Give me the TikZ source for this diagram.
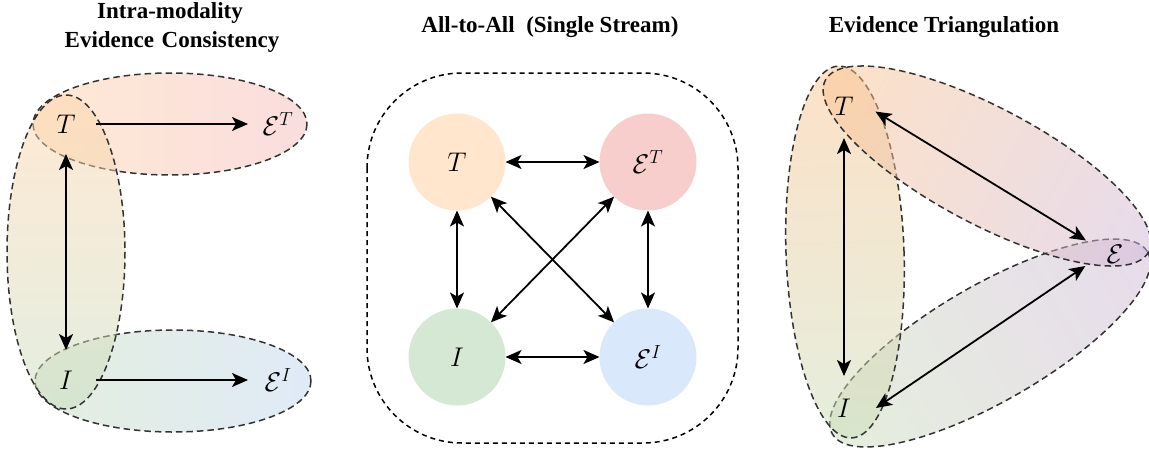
\documentclass[tikz,border=0pt]{standalone}
\usepackage{fix-cm}
\usepackage{fontspec}
\newfontfamily\titlefont{Liberation Serif}
\usetikzlibrary{positioning, arrows.meta, shapes.geometric}
\definecolor{modOrange}{HTML}{FFD4AA}
\definecolor{modRed}{HTML}{F5BCBC}
\definecolor{modGreen}{HTML}{C8DEC0}
\definecolor{modBlue}{HTML}{C2D6F0}
\definecolor{ballOrange}{HTML}{FFE6CC}
\definecolor{ballRed}{HTML}{F8CECC}
\definecolor{ballGreen}{HTML}{D5E8D4}
\definecolor{ballBlue}{HTML}{DAE8FC}
\definecolor{triOrange}{HTML}{FBC490}
\definecolor{triGreen}{HTML}{CBDEBB}
\definecolor{triPurple}{HTML}{D1B9D9}

\begin{document}
\begin{tikzpicture}[x=1pt, y=-1pt,
    every node/.style={inner sep=0pt, outer sep=0pt},
    heading/.style={font=\titlefont\bfseries\fontsize{23}{28}\selectfont, anchor=base},
    sym/.style={circle, minimum size=60pt, font=\fontsize{27}{32}\selectfont},
    symwide/.style={circle, minimum size=64pt, font=\fontsize{27}{32}\selectfont},
    ball/.style={circle, minimum size=97pt, font=\fontsize{27}{32}\selectfont},
    blob/.style={draw=black!80, line width=1.5pt, dash pattern=on 6.5pt off 4pt, fill opacity=0.5},
    link/.style={line width=1.8pt, -{Stealth[length=16pt, width=14pt, inset=4pt]}},
    bothway/.style={line width=1.8pt, {Stealth[length=16pt, width=14pt, inset=4pt]}-{Stealth[length=16pt, width=14pt, inset=4pt]}},
    streambox/.style={draw=black, line width=1.5pt, dash pattern=on 5pt off 4pt, rounded corners=95pt},
]
\useasboundingbox (0,0) rectangle (1149,448);

% --- Intra-modality
\path[blob, left color=modOrange, right color=modRed] (170,124) ellipse (137 and 51);
\path[blob, left color=modGreen, right color=modBlue] (173,381) ellipse (138 and 51);
\path[blob, top color=modOrange, bottom color=modGreen] (66,252) ellipse (59 and 157);

\node[heading] (headA1) at (170,18) {Intra-modality};
\node[heading] (headA2) at (172,47) {Evidence\hspace{0.08em} Consistency};

\node[sym] (tA)  at (66,124)  {$T$};
\node[sym] (etA) at (278,124) {$\mathcal{E}^{T}$};
\node[sym] (iA)  at (66,380)  {$I$};
\node[sym] (eiA) at (278,380) {$\mathcal{E}^{I}$};

\draw[link] (tA) -- (etA);
\draw[link] (iA) -- (eiA);
\draw[bothway] (tA) -- (iA);

% --- All-to-All
\draw[streambox] (367,73) rectangle (738,443);
\node[heading] (headB) at (550,32) {All-to-All\ \ (Single Stream)};

\node[ball, fill=ballOrange] (tB)  at (457,162) {$T$};
\node[ball, fill=ballRed]    (etB) at (648,162) {$\mathcal{E}^{T}$};
\node[ball, fill=ballGreen]  (iB)  at (457,357) {$I$};
\node[ball, fill=ballBlue]   (eiB) at (648,357) {$\mathcal{E}^{I}$};

\draw[bothway] (tB) -- (etB);
\draw[bothway] (iB) -- (eiB);
\draw[bothway] (tB) -- (iB);
\draw[bothway] (etB) -- (eiB);
\draw[bothway] (tB) -- (eiB);
\draw[bothway] (iB) -- (etB);

% --- Evidence Triangulation
\begin{scope}[transform canvas={shift={(990,343)}, rotate=30}]
  \path[blob, left color=triGreen, right color=triPurple] (0,0) ellipse (182 and 58);
\end{scope}
\begin{scope}[transform canvas={shift={(845,252)}, rotate=2}]
  \path[blob, top color=triOrange, bottom color=triGreen] (0,0) ellipse (59 and 186);
\end{scope}
\begin{scope}[transform canvas={shift={(987,166)}, rotate=-28}]
  \path[blob, left color=triOrange, right color=triPurple] (0,0) ellipse (183 and 58);
\end{scope}

\node[heading] (headC) at (944,32) {Evidence Triangulation};

\node[symwide] (tC) at (844,106)  {$T$};
\node[symwide] (iC) at (844,408)  {$I$};
\node[symwide] (eC) at (1115,254) {$\mathcal{E}$};

\draw[bothway] (tC) -- (iC);
\draw[bothway] (tC.-10) -- (eC.155);
\draw[bothway] (iC.east) -- (eC.202);
\end{tikzpicture}
\end{document}
